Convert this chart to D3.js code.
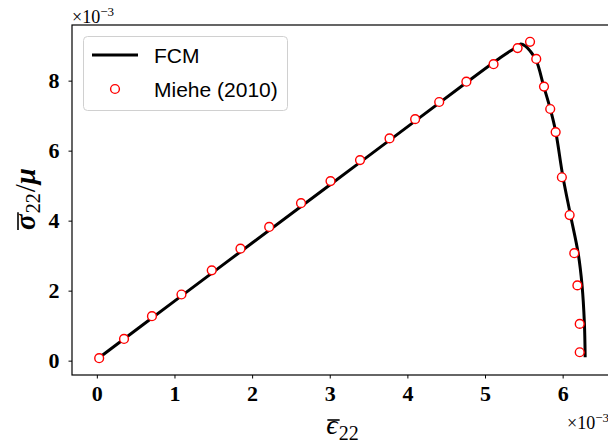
<!DOCTYPE html>
<html>
<head>
<meta charset="utf-8">
<script src="https://cdn.jsdelivr.net/npm/d3@7"></script>
<style>
  html, body { margin: 0; padding: 0; background: #fff; }
  svg { display: block; }
</style>
</head>
<body>
<svg id="chart" width="608" height="447"></svg>
<script>
// FCM response curve (strain x1e-3, normalised stress x1e-3)
const fcmStrain = [0.02, 1.0, 2.0, 3.0, 4.0, 4.8, 5.2, 5.32, 5.40, 5.46, 5.52, 5.58, 5.66, 5.755, 5.84, 5.91, 6.0, 6.10, 6.20, 6.25, 6.28, 6.29];
const fcmStress = [0.07, 1.70, 3.36, 5.02, 6.68, 8.01, 8.66, 8.84, 8.95, 9.05, 8.99, 8.85, 8.58, 7.85, 7.20, 6.55, 5.30, 4.17, 3.07, 2.15, 1.08, 0.10];

// Reference points, Miehe (2010)
const mieheStrain = [0.03, 0.35, 0.71, 1.09, 1.48, 1.85, 2.22, 2.63, 3.01, 3.39, 3.77, 4.10, 4.41, 4.76, 5.11, 5.42, 5.58, 5.66, 5.76, 5.84, 5.91, 5.99, 6.09, 6.15, 6.19, 6.22, 6.22];
const mieheStress = [0.07, 0.62, 1.27, 1.89, 2.58, 3.20, 3.82, 4.50, 5.13, 5.73, 6.35, 6.90, 7.39, 7.97, 8.47, 8.93, 9.11, 8.62, 7.83, 7.19, 6.53, 5.24, 4.16, 3.07, 2.15, 1.05, 0.24];

const xTicks = [0, 1, 2, 3, 4, 5, 6];
const yTicks = [0, 2, 4, 6, 8];
const seriesNames = ["FCM", "Miehe (2010)"];

const svg = d3.select("#chart");
const plotL = 72, plotR = 610, plotT = 25, plotB = 375;

const x = d3.scaleLinear().domain([-0.32, 6.61]).range([plotL, plotR]);
const y = d3.scaleLinear().domain([-0.41, 9.59]).range([plotB, plotT]);

const serif = "'Liberation Serif', 'Times New Roman', serif";
const sans = "'Liberation Sans', Arial, sans-serif";

// Axes
const xAxis = svg.append("g")
  .attr("transform", `translate(0,${plotB})`)
  .call(d3.axisBottom(x).tickValues(xTicks).tickSize(3.5).tickPadding(7).tickFormat(d3.format("d")));
const yAxis = svg.append("g")
  .attr("transform", `translate(${plotL},0)`)
  .call(d3.axisLeft(y).tickValues(yTicks).tickSize(3.5).tickPadding(9).tickFormat(d3.format("d")));

[xAxis, yAxis].forEach(g => {
  g.select(".domain").remove();
  g.selectAll(".tick line").attr("stroke", "#000").attr("stroke-width", 1);
  g.selectAll(".tick text")
    .attr("fill", "#000")
    .style("font-family", serif)
    .style("font-size", "22px")
    .style("font-weight", "bold");
});

// Data
const line = d3.line()
  .x((d, i) => x(fcmStrain[i]))
  .y((d, i) => y(fcmStress[i]))
  .curve(d3.curveCatmullRom.alpha(0.5));

svg.append("path")
  .datum(fcmStrain)
  .attr("d", line)
  .attr("fill", "none")
  .attr("stroke", "#000")
  .attr("stroke-width", 3)
  .attr("stroke-linejoin", "round");

svg.append("g")
  .selectAll("circle")
  .data(mieheStrain)
  .join("circle")
  .attr("cx", d => x(d))
  .attr("cy", (d, i) => y(mieheStress[i]))
  .attr("r", 4.4)
  .attr("fill", "#fff")
  .attr("stroke", "#ff0000")
  .attr("stroke-width", 1.4);

// Frame
svg.append("rect")
  .attr("x", plotL).attr("y", plotT)
  .attr("width", plotR - plotL).attr("height", plotB - plotT)
  .attr("fill", "none").attr("stroke", "#000").attr("stroke-width", 1.2);

// Legend
const lg = svg.append("g");
lg.append("rect")
  .attr("x", 83.5).attr("y", 36.5).attr("width", 204).attr("height", 74)
  .attr("rx", 4).attr("ry", 4)
  .attr("fill", "#fff").attr("fill-opacity", 0.8)
  .attr("stroke", "#d0d0d0").attr("stroke-width", 1);
lg.append("line")
  .attr("x1", 92).attr("x2", 138).attr("y1", 55).attr("y2", 55)
  .attr("stroke", "#000").attr("stroke-width", 3);
lg.append("circle")
  .attr("cx", 115).attr("cy", 89).attr("r", 4.4)
  .attr("fill", "#fff").attr("stroke", "#ff0000").attr("stroke-width", 1.4);
lg.selectAll("text.lbl")
  .data(seriesNames)
  .join("text")
  .attr("class", "lbl")
  .attr("x", 154)
  .attr("y", (d, i) => i === 0 ? 63 : 97)
  .style("font-family", sans)
  .style("font-size", "21px")
  .attr("fill", "#000")
  .text(d => d);

// Math-style label builder: pieces of text, overline on the first glyph
function mathLabel(parent, pieces, overline, anchorX, baseY) {
  const t = parent.append("text")
    .attr("x", 0).attr("y", baseY)
    .attr("fill", "#000")
    .style("font-family", serif);
  pieces.forEach(p => {
    const s = t.append("tspan")
      .style("font-size", p.size + "px")
      .style("font-style", p.italic ? "italic" : "normal")
      .style("font-weight", p.bold ? "bold" : "normal")
      .text(p.text);
    if (p.dy) s.attr("dy", p.dy);
    if (p.dx) s.attr("dx", p.dx);
  });
  const total = t.node().getComputedTextLength();
  const x0 = anchorX - total / 2;
  t.attr("x", x0);
  const w = t.node().getSubStringLength(0, 1);
  parent.append("line")
    .attr("x1", x0 + overline.pad).attr("x2", x0 + w + overline.pad + overline.extra)
    .attr("y1", baseY - overline.rise).attr("y2", baseY - overline.rise)
    .attr("stroke", "#000").attr("stroke-width", 1.6);
}

// x-axis label: strain
mathLabel(svg, [
  { text: "ϵ", size: 28, italic: true },
  { text: "22", size: 20, dy: 6, dx: 1 }
], { pad: 1, extra: 1, rise: 14 }, 342, 434);

// y-axis label: normalised stress
const yl = svg.append("g").attr("transform", "translate(35,200) rotate(-90)");
mathLabel(yl, [
  { text: "σ", size: 29, italic: true, bold: true },
  { text: "22", size: 20, dy: 5, dx: 1 },
  { text: "/", size: 29, dy: -5, dx: 1 },
  { text: "μ", size: 29, italic: true, bold: true }
], { pad: 0, extra: 2, rise: 17 }, 0, 0);

// Scale multipliers
function offsetText(xPos, yPos, anchor) {
  const t = svg.append("text")
    .attr("x", xPos).attr("y", yPos)
    .attr("text-anchor", anchor)
    .attr("fill", "#000")
    .style("font-family", serif)
    .style("font-size", "18px");
  t.append("tspan").text("×10");
  t.append("tspan").attr("dy", -7).style("font-size", "13px").text("−3");
}
offsetText(72, 23, "start");
offsetText(609, 429, "end");
</script>
</body>
</html>
